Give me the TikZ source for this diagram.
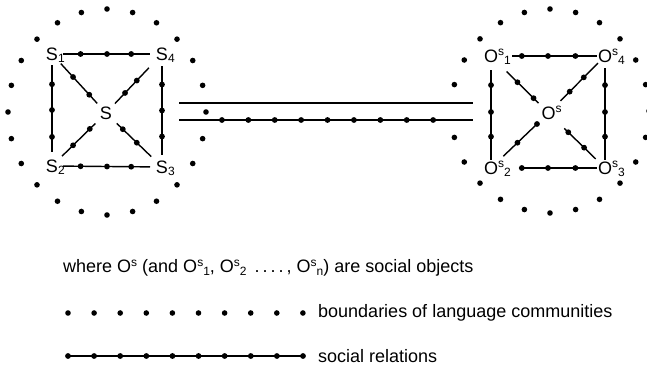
\documentclass[tikz,border=0pt]{standalone}
\usepackage{fontspec}
\setmainfont{Liberation Sans}
% small raised / lowered indices set in text
\newcommand\supx[1]{\raisebox{6.5pt}{\fontsize{12}{12}\selectfont #1}}
\newcommand\subx[1]{\raisebox{-2.5pt}{\fontsize{12}{12}\selectfont #1}}
\begin{document}
\begin{tikzpicture}[x=1pt,y=-1pt,
  lbl/.style={inner sep=0pt, font=\fontsize{18}{18}\selectfont},
  legendtext/.style={inner sep=0pt, anchor=west, font=\fontsize{18}{18}\selectfont},
  reldot/.style={circle, fill, inner sep=0pt, minimum size=5.8pt},
  rel/.style={line width=1.4pt},
  bdot/.style={fill=black}]
\useasboundingbox (0,0) rectangle (647,369);
\clip (0,0) rectangle (647,369);

% ---------- community of speakers ----------
\node[lbl] (S1) at (52,54)  {S\rlap{\smash{\subx{1}}}};
\node[lbl] (S4) at (162,54) {S\rlap{\smash{\subx{4}}}};
\node[lbl] (S2) at (52,166) {S\rlap{\smash{\subx{2}}}};
\node[lbl] (S3) at (162,167) {S\rlap{\smash{\subx{3}}}};
\node[lbl] (S)  at (106,113) {S};

\draw[rel, shorten <=11pt, shorten >=12pt] (S1.center) -- (S4.center)
  node[reldot,pos=.26]{} node[reldot,pos=.5]{} node[reldot,pos=.72]{};
\draw[rel, shorten <=11pt, shorten >=12pt] (S2.center) -- (S3.center)
  node[reldot,pos=.26]{} node[reldot,pos=.5]{} node[reldot,pos=.72]{};
\draw[rel, shorten <=11pt, shorten >=14pt] (S1.center) -- (S2.center)
  node[reldot,pos=.27]{} node[reldot,pos=.5]{} node[reldot,pos=.74]{};
\draw[rel, shorten <=12pt, shorten >=12pt] (S4.center) -- (S3.center)
  node[reldot,pos=.27]{} node[reldot,pos=.5]{} node[reldot,pos=.73]{};
\draw[rel, shorten <=13pt, shorten >=13pt] (S1.center) -- (S.center)
  node[reldot,pos=.39]{} node[reldot,pos=.69]{};
\draw[rel, shorten <=19pt, shorten >=13pt] (S4.center) -- (S.center)
  node[reldot,pos=.45]{} node[reldot,pos=.66]{};
\draw[rel, shorten <=14pt, shorten >=15pt] (S2.center) -- (S.center)
  node[reldot,pos=.39]{} node[reldot,pos=.7]{};
\draw[rel, shorten <=15pt, shorten >=15pt] (S3.center) -- (S.center)
  node[reldot,pos=.45]{} node[reldot,pos=.7]{};

% boundary of the first language community
\foreach \a in {0,15,...,345}
  \fill[bdot] ({107+99*sin(\a)},{112-103*cos(\a)}) circle (2.8pt);

% ---------- community of social objects ----------
\node[lbl] (O1) at (491,56)  {O\rlap{\smash{\supx{s}\subx{1}}}};
\node[lbl] (O4) at (605,56)  {O\rlap{\smash{\supx{s}\subx{4}}}};
\node[lbl] (O2) at (491,168) {O\rlap{\smash{\supx{s}\subx{2}}}};
\node[lbl] (O3) at (605,168) {O\rlap{\smash{\supx{s}\subx{3}}}};
\node[lbl] (Os) at (548.5,113) {O\rlap{\smash{\supx{s}}}};

\draw[rel, shorten <=21pt, shorten >=8pt] (O1.center) -- (O4.center)
  node[reldot,pos=.27]{} node[reldot,pos=.5]{} node[reldot,pos=.74]{};
\draw[rel, shorten <=28pt, shorten >=8pt] (O2.center) -- (O3.center)
  node[reldot,pos=.27]{} node[reldot,pos=.5]{} node[reldot,pos=.74]{};
\draw[rel, shorten <=14pt, shorten >=8pt] (O1.center) -- (O2.center)
  node[reldot,pos=.26]{} node[reldot,pos=.5]{} node[reldot,pos=.72]{};
\draw[rel, shorten <=12pt, shorten >=8pt] (O4.center) -- (O3.center)
  node[reldot,pos=.26]{} node[reldot,pos=.5]{} node[reldot,pos=.72]{};
\draw[rel, shorten <=22pt, shorten >=14pt] (O1.center) -- (Os.center)
  node[reldot,pos=.46]{} node[reldot,pos=.74]{};
\draw[rel, shorten <=10pt, shorten >=17pt] (O4.center) -- (Os.center)
  node[reldot,pos=.375]{} node[reldot,pos=.625]{};
\draw[rel, shorten <=17pt, shorten >=14pt] (O2.center) -- (Os.center)
  node[reldot,pos=.46]{} node[reldot,pos=.8]{};
\draw[rel, shorten <=13pt, shorten >=22pt] (O3.center) -- (Os.center)
  node[reldot,pos=.37]{} node[reldot,pos=.65]{};

% boundary of the second language community (open towards the link)
\foreach \a in {0,15,...,255,285,300,...,345}
  \fill[bdot] ({550+99*sin(\a)},{111-102*cos(\a)}) circle (2.8pt);

% ---------- link between the two communities ----------
\coordinate (la) at (179,103);
\coordinate (ra) at (473,103);
\coordinate (lb) at (179,120);
\coordinate (rb) at (473,120);
\draw[rel] (la) -- (ra);
\draw[rel] (lb) -- (rb)
  foreach \k in {0,...,8} {node[reldot,pos={0.146+0.0898*\k}]{}};

% ---------- legend ----------
\node[legendtext] (key1) at (63,268)
  {where O\supx{s} (and O\supx{s}\subx{1}, O\supx{s}\subx{2}\, .\,.\,.\,.\,, O\supx{s}\subx{n}) are social objects};

\foreach \k in {0,...,9}
  \fill[bdot] ({68+26.1*\k},313) circle (2.8pt);
\node[legendtext] (key2) at (318,313) {boundaries of language communities};

\coordinate (kl) at (68,356);
\coordinate (kr) at (303,356);
\draw[rel] (kl) -- (kr)
  foreach \k in {0,...,9} {node[reldot,pos={\k/9}]{}};
\node[legendtext] (key3) at (318,356) {social relations};
\end{tikzpicture}
\end{document}
